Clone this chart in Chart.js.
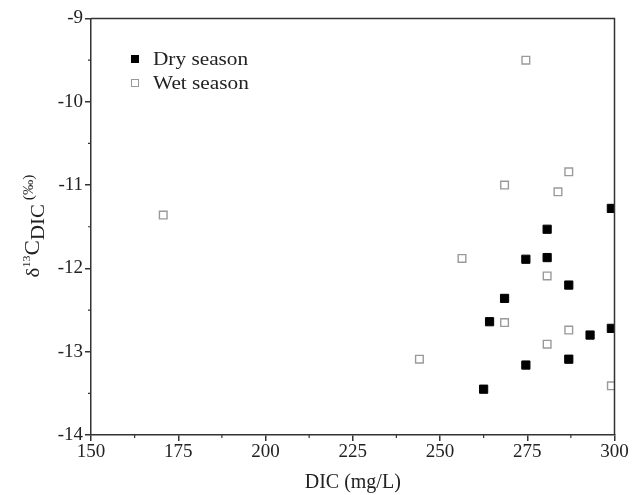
<!DOCTYPE html>
<html>
<head>
<meta charset="utf-8">
<script src="https://cdn.jsdelivr.net/npm/chart.js@4"></script>
<style>
html,body{margin:0;padding:0;background:#fff;}
#wrap{width:642px;height:495px;position:relative;}
</style>
</head>
<body>
<div id="wrap"><canvas id="c" width="642" height="495"></canvas></div>
<script>
// ---- data ----
const seriesNames = ["Dry season", "Wet season"];
const dryDIC   = [299.1, 280.7, 274.6, 280.7, 286.9, 268.5, 264.2, 299.1, 293.0, 274.6, 286.9, 262.5];
const dryD13C  = [-11.28, -11.53, -11.89, -11.87, -12.20, -12.36, -12.64, -12.72, -12.80, -13.16, -13.09, -13.45];
const wetDIC   = [170.7, 274.6, 286.9, 283.8, 268.5, 256.3, 280.7, 268.5, 286.9, 280.7, 244.1, 299.1];
const wetD13C  = [-11.36, -9.50, -10.84, -11.08, -11.00, -11.88, -12.09, -12.65, -12.74, -12.91, -13.09, -13.41];
const xTicks = [150, 175, 200, 225, 250, 275, 300];
const yTicks = [-14, -13, -12, -11, -10, -9];
const xTitle = "DIC (mg/L)";

const FONT = "'Liberation Serif', 'Times New Roman', serif";
const AXIS = '#333333';

function pts(xs, ys){ return xs.map((x,i)=>({x:x, y:ys[i]})); }

const framePlugin = {
  id: 'frame',
  afterDraw(chart){
    const ctx = chart.ctx, a = chart.chartArea;
    const xs = chart.scales.x, ys = chart.scales.y;
    ctx.save();
    ctx.strokeStyle = AXIS;
    ctx.lineWidth = 1.5;
    // top and right frame lines
    ctx.beginPath();
    ctx.moveTo(a.left, a.top); ctx.lineTo(a.right, a.top); ctx.lineTo(a.right, a.bottom);
    ctx.stroke();
    // minor ticks
    ctx.lineWidth = 1.2;
    ctx.beginPath();
    for (let i=0;i<xTicks.length-1;i++){
      const px = xs.getPixelForValue((xTicks[i]+xTicks[i+1])/2);
      ctx.moveTo(px, a.bottom); ctx.lineTo(px, a.bottom+3);
    }
    for (let i=0;i<yTicks.length-1;i++){
      const py = ys.getPixelForValue((yTicks[i]+yTicks[i+1])/2);
      ctx.moveTo(a.left, py); ctx.lineTo(a.left-3, py);
    }
    ctx.stroke();

    // legend
    const ds = chart.data.datasets;
    const lx = 135, ly = [59, 83];
    ds.forEach((d, i)=>{
      const s = 7;
      ctx.fillStyle = d.backgroundColor;
      ctx.fillRect(lx - s/2, ly[i]-s/2, s, s);
      ctx.strokeStyle = d.borderColor;
      ctx.lineWidth = 1;
      ctx.strokeRect(lx - s/2, ly[i]-s/2, s, s);
      ctx.save();
      ctx.translate(153, ly[i]+1);
      ctx.scale(1.12, 1);
      ctx.fillStyle = '#222';
      ctx.font = "19px " + FONT;
      ctx.textAlign = 'left';
      ctx.textBaseline = 'middle';
      ctx.fillText(d.label, 0, 0);
      ctx.restore();
    });

    // y-axis title with super/subscripts
    const segs = [
      {t:'\u03b4', f:19, dy:0},
      {t:'13', f:11, dy:-9},
      {t:'C', f:21, dy:0},
      {t:'DIC', f:19, dy:5},
      {t:' ', f:14, dy:0},
      {t:'(\u2030)', f:14, dy:-6}
    ];
    let total = 0;
    segs.forEach(s=>{ ctx.font = s.f + "px " + FONT; s.w = ctx.measureText(s.t).width; total += s.w; });
    const sx = 1.1;
    ctx.translate(38.5, 226);
    ctx.rotate(-Math.PI/2);
    ctx.scale(sx, 1);
    ctx.fillStyle = '#222';
    ctx.textBaseline = 'alphabetic';
    ctx.textAlign = 'left';
    let cx = -total/2;
    segs.forEach(s=>{ ctx.font = s.f + "px " + FONT; ctx.fillText(s.t, cx, s.dy); cx += s.w; });
    ctx.restore();
  }
};

new Chart(document.getElementById('c'), {
  type: 'scatter',
  data: {
    datasets: [
      { label: seriesNames[0], data: pts(dryDIC, dryD13C),
        backgroundColor: '#000000', borderColor: '#000000', borderWidth: 1,
        pointStyle: 'rect', pointRadius: 5.8, pointHoverRadius: 5.8 },
      { label: seriesNames[1], data: pts(wetDIC, wetD13C),
        backgroundColor: '#ffffff', borderColor: '#9a9a9a', borderWidth: 1.4,
        pointStyle: 'rect', pointRadius: 5.4, pointHoverRadius: 5.4 }
    ]
  },
  options: {
    responsive: false,
    animation: false,
    devicePixelRatio: 1,
    layout: { padding: { top: 18.5, right: 27.5, left: 0, bottom: 0 } },
    plugins: { legend: { display: false }, tooltip: { enabled: false } },
    scales: {
      x: {
        type: 'linear', min: 150, max: 300,
        afterBuildTicks: (s)=>{ s.ticks = xTicks.map(v=>({value:v})); },
        afterFit: (s)=>{ s.height = 60; },
        border: { display: true, color: AXIS, width: 1.5 },
        grid: { drawOnChartArea: false, drawTicks: true, tickLength: 6, color: AXIS, lineWidth: 1.5 },
        ticks: { color: '#222', font: { family: FONT, size: 19 }, padding: 0, maxRotation: 0 },
        title: { display: true, text: xTitle, color: '#222', font: { family: FONT, size: 20 }, padding: { top: 4, bottom: 0 } }
      },
      y: {
        type: 'linear', min: -14, max: -9,
        afterBuildTicks: (s)=>{ s.ticks = yTicks.map(v=>({value:v})); },
        afterFit: (s)=>{ s.width = 91; },
        border: { display: true, color: AXIS, width: 1.5 },
        grid: { drawOnChartArea: false, drawTicks: true, tickLength: 6, color: AXIS, lineWidth: 1.5 },
        ticks: { color: '#222', font: { family: FONT, size: 19 }, padding: 2 }
      }
    }
  },
  plugins: [framePlugin]
});
</script>
</body>
</html>
